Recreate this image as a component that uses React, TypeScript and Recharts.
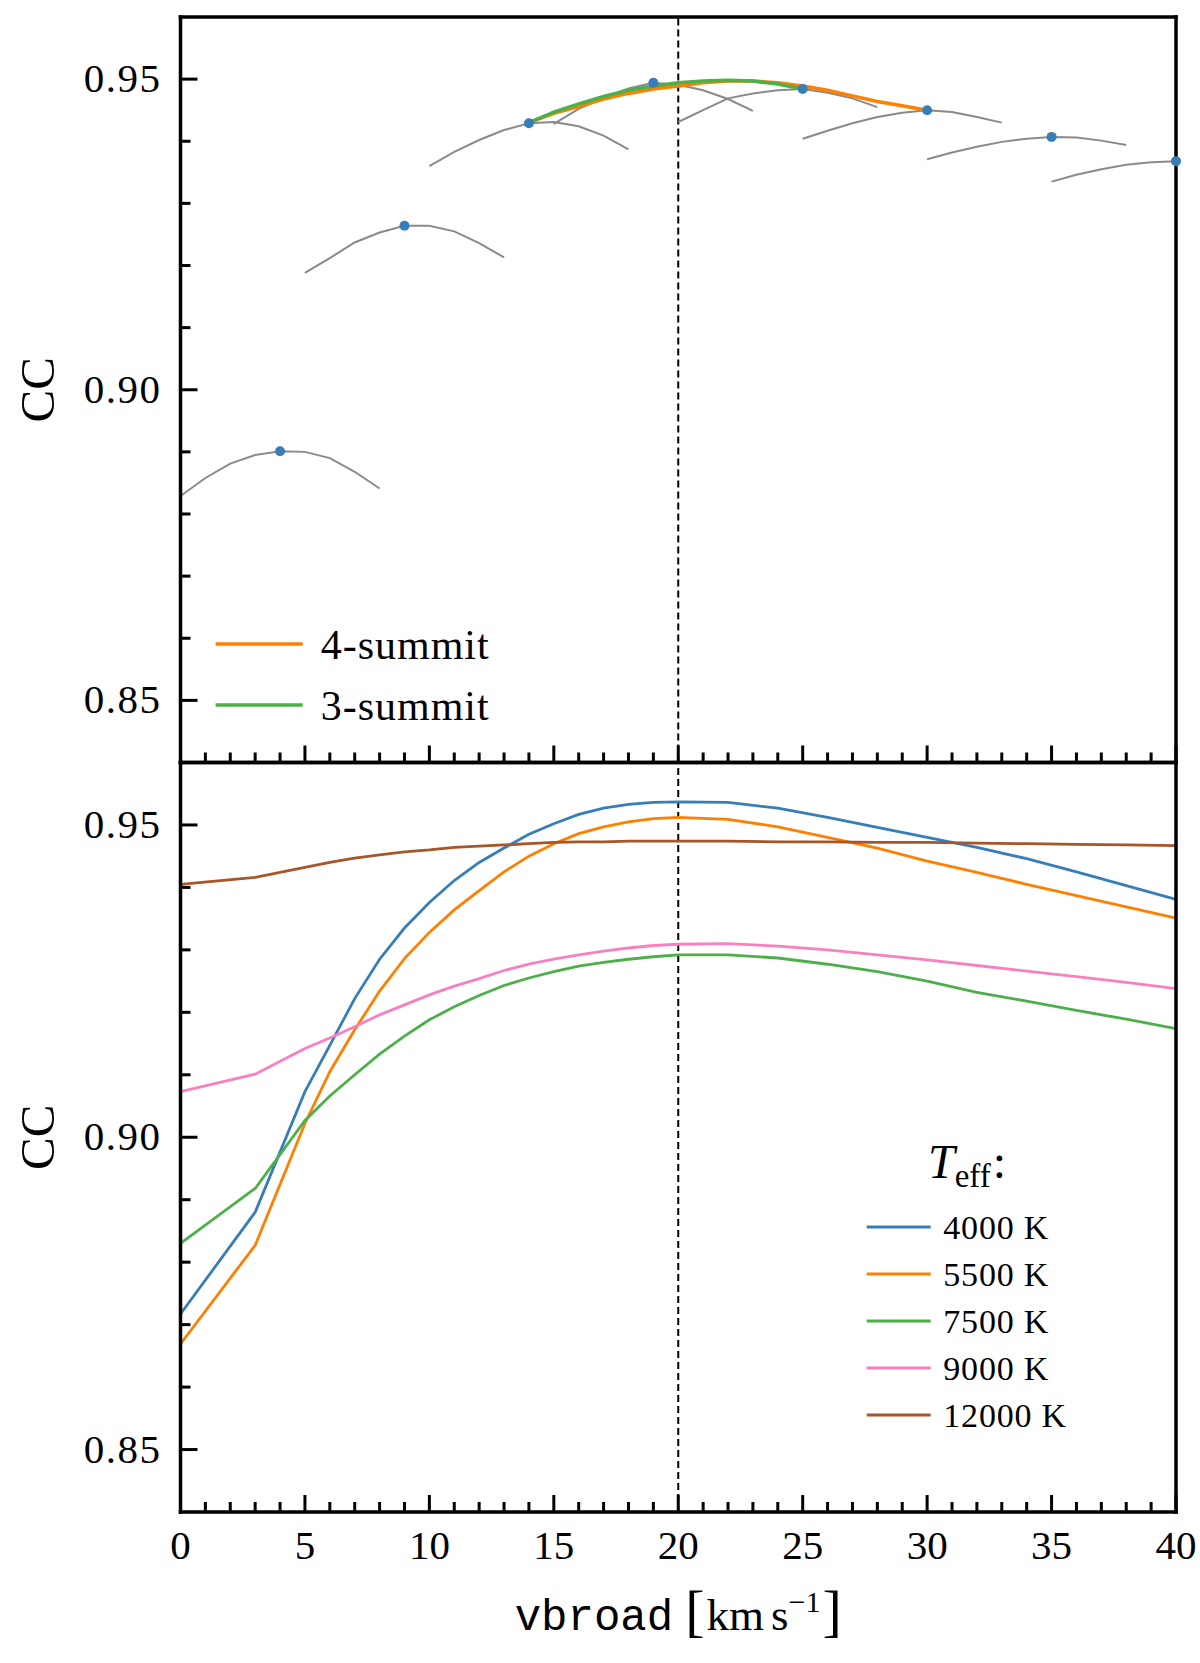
import React from 'react';
import { ComposedChart, Line, XAxis, YAxis, ReferenceLine, Legend, Label } from 'recharts';

const SERIF = '"Liberation Serif", "DejaVu Serif", serif';
const MONO = '"Liberation Mono", "DejaVu Sans Mono", monospace';

// ---------- axis ticks ----------
const xTicks = [0, 1, 2, 3, 4, 5, 6, 7, 8, 9, 10, 11, 12, 13, 14, 15, 16, 17, 18, 19, 20,
  21, 22, 23, 24, 25, 26, 27, 28, 29, 30, 31, 32, 33, 34, 35, 36, 37, 38, 39, 40];
const xMajorTicks = [0, 5, 10, 15, 20, 25, 30, 35, 40];
const yTicks = [0.85, 0.86, 0.87, 0.88, 0.89, 0.9, 0.91, 0.92, 0.93, 0.94, 0.95];
const yMajorTicks = [0.85, 0.9, 0.95];
const yMajorLabels = ['0.85', '0.90', '0.95'];

// ---------- top panel ----------
const arc1X = [0, 1, 2, 3, 4, 5, 6, 7, 8];
const arc1Y = [0.8829, 0.8858, 0.8881, 0.8895, 0.8901, 0.89, 0.889, 0.8868, 0.8841];
const arc2X = [5, 6, 7, 8, 9, 10, 11, 12, 13];
const arc2Y = [0.9188, 0.9212, 0.9237, 0.9253, 0.9264, 0.9264, 0.9255, 0.9236, 0.9213];
const arc3X = [10, 11, 12, 13, 14, 15, 16, 17, 18];
const arc3Y = [0.936, 0.9383, 0.9402, 0.9418, 0.9429, 0.9431, 0.9424, 0.9409, 0.9387];
const arc4X = [15, 16, 17, 18, 19, 20, 21, 22, 23];
const arc4Y = [0.9428, 0.9452, 0.947, 0.9485, 0.9494, 0.9491, 0.9482, 0.9468, 0.9449];
const arc5X = [20, 21, 22, 23, 24, 25, 26, 27, 28];
const arc5Y = [0.9431, 0.945, 0.9469, 0.9477, 0.9482, 0.9484, 0.9478, 0.9469, 0.9455];
const arc6X = [25, 26, 27, 28, 29, 30, 31, 32, 33];
const arc6Y = [0.9404, 0.9417, 0.9429, 0.9439, 0.9446, 0.945, 0.9447, 0.9439, 0.943];
const arc7X = [30, 31, 32, 33, 34, 35, 36, 37, 38];
const arc7Y = [0.9371, 0.9382, 0.9391, 0.9399, 0.9404, 0.9407, 0.9406, 0.9401, 0.9394];
const arc8X = [35, 36, 37, 38, 39, 40];
const arc8Y = [0.9335, 0.9346, 0.9355, 0.9362, 0.9366, 0.9368];

const peakX = [4, 9, 14, 19, 25, 30, 35, 40];
const peakY = [0.8901, 0.9264, 0.9429, 0.9494, 0.9484, 0.945, 0.9407, 0.9368];

const sum4X = [14, 15, 16, 17, 18, 19, 20, 21, 22, 23, 24, 25, 26, 27, 28, 29, 30];
const sum4Y = [0.943, 0.9445, 0.9456, 0.9468, 0.9477, 0.9484, 0.9489, 0.9494, 0.9497, 0.9497,
  0.9494, 0.9489, 0.9482, 0.9473, 0.9464, 0.9457, 0.945];
const sum3X = [14, 15, 16, 17, 18, 19, 20, 21, 22, 23, 24, 25];
const sum3Y = [0.943, 0.9447, 0.946, 0.9472, 0.9482, 0.9489, 0.9494, 0.9497, 0.9498, 0.9497, 0.9492, 0.9484];

// ---------- bottom panel ----------
const vbroad = [0, 3, 5, 6, 7, 8, 9, 10, 11, 12, 13, 14, 15, 16, 17, 18, 19, 20,
  22, 24, 26, 28, 30, 32, 34, 36, 38, 40];
const cc4000 = [0.8717, 0.888, 0.9073, 0.9147, 0.9222, 0.9285, 0.9335, 0.9376, 0.9411, 0.944,
  0.9463, 0.9485, 0.9502, 0.9517, 0.9527, 0.9533, 0.9536, 0.9537,
  0.9536, 0.9527, 0.9512, 0.9496, 0.948, 0.9464, 0.9446, 0.9425, 0.9403, 0.9381];
const cc5500 = [0.8669, 0.8827, 0.9022, 0.9105, 0.9172, 0.9234, 0.9286, 0.9328, 0.9364, 0.9395,
  0.9425, 0.945, 0.947, 0.9486, 0.9497, 0.9505, 0.951, 0.9512,
  0.9509, 0.9497, 0.948, 0.9463, 0.9442, 0.9424, 0.9405, 0.9387, 0.9369, 0.9351];
const cc7500 = [0.883, 0.8918, 0.9027, 0.9066, 0.91, 0.9133, 0.9162, 0.9188, 0.9209, 0.9227,
  0.9243, 0.9255, 0.9265, 0.9274, 0.928, 0.9285, 0.9289, 0.9292,
  0.9292, 0.9287, 0.9277, 0.9265, 0.925, 0.9232, 0.9218, 0.9203, 0.9189, 0.9174];
const cc9000 = [0.9073, 0.9101, 0.9142, 0.9159, 0.9177, 0.9196, 0.9212, 0.9228, 0.9242, 0.9254,
  0.9267, 0.9277, 0.9285, 0.9292, 0.9298, 0.9303, 0.9307, 0.9309,
  0.931, 0.9306, 0.93, 0.9292, 0.9284, 0.9275, 0.9266, 0.9257, 0.9248, 0.9238];
const cc12000 = [0.9405, 0.9416, 0.9432, 0.944, 0.9447, 0.9452, 0.9457, 0.946, 0.9464, 0.9466,
  0.9468, 0.947, 0.9472, 0.9473, 0.9473, 0.9474, 0.9474, 0.9474,
  0.9474, 0.9473, 0.9473, 0.9472, 0.9472, 0.9471, 0.947, 0.9469, 0.9468, 0.9467];

const topNames = ['4-summit', '3-summit'];
const bottomNames = ['4000 K', '5500 K', '7500 K', '9000 K', '12000 K'];

const C = {
  blue: '#377eb8',
  orange: '#ff7f00',
  green: '#4daf4a',
  pink: '#f781bf',
  brown: '#a65628',
  gray: '#8a8a8a',
};

const zip = (xs: number[], ys: number[]) => xs.map((x, i) => ({ x, y: ys[i] }));

const arcs = [
  zip(arc1X, arc1Y), zip(arc2X, arc2Y), zip(arc3X, arc3Y), zip(arc4X, arc4Y),
  zip(arc5X, arc5Y), zip(arc6X, arc6Y), zip(arc7X, arc7Y), zip(arc8X, arc8Y),
];
const peaks = zip(peakX, peakY);
const sum4 = zip(sum4X, sum4Y);
const sum3 = zip(sum3X, sum3Y);
const bottomSeries = [
  { name: bottomNames[0], color: C.blue, data: zip(vbroad, cc4000) },
  { name: bottomNames[1], color: C.orange, data: zip(vbroad, cc5500) },
  { name: bottomNames[2], color: C.green, data: zip(vbroad, cc7500) },
  { name: bottomNames[3], color: C.pink, data: zip(vbroad, cc9000) },
  { name: bottomNames[4], color: C.brown, data: zip(vbroad, cc12000) },
];

// ---------- tick renderers (inward ticks, like matplotlib) ----------
const MAJOR = 17;
const MINOR = 10;
const TICK_W = 3;
const TICK_FONT = 41;

const isXMajor = (v: number) => xMajorTicks.indexOf(v) >= 0;
const yMajorIndex = (v: number) => yMajorTicks.findIndex((m) => Math.abs(m - v) < 1e-6);

const makeTick = (side: 'bottom' | 'top' | 'left' | 'right', showLabel: boolean) => (props: any) => {
  const { x, y, payload } = props;
  const v = payload.value;
  if (side === 'bottom' || side === 'top') {
    const major = isXMajor(v);
    const len = major ? MAJOR : MINOR;
    const y2 = side === 'bottom' ? y - len : y + len;
    return (
      <g>
        <line x1={x} x2={x} y1={y} y2={y2} stroke="#000" strokeWidth={TICK_W} />
        {showLabel && major ? (
          <text x={x} y={y + 47} textAnchor="middle" fontFamily={SERIF} fontSize={TICK_FONT} fill="#000">
            {String(v)}
          </text>
        ) : null}
      </g>
    );
  }
  const mi = yMajorIndex(v);
  const major = mi >= 0;
  const len = major ? MAJOR : MINOR;
  const x2 = side === 'left' ? x + len : x - len;
  return (
    <g>
      <line x1={x} x2={x2} y1={y} y2={y} stroke="#000" strokeWidth={TICK_W} />
      {showLabel && major ? (
        <text
          x={x - 19}
          y={y + 13}
          textAnchor="end"
          fontFamily={SERIF}
          fontSize={TICK_FONT}
          letterSpacing={1.5}
          fill="#000"
        >
          {yMajorLabels[mi]}
        </text>
      ) : null}
    </g>
  );
};

const axisLine = { stroke: '#000', strokeWidth: 3.5, strokeLinecap: 'square' as const };

const CCLabel = (props: any) => {
  const vb = props.viewBox || {};
  const cx = vb.x + vb.width - 143;
  const cy = vb.y + vb.height / 2;
  return (
    <text
      x={cx}
      y={cy}
      transform={`rotate(-90, ${cx}, ${cy})`}
      textAnchor="middle"
      dominantBaseline="central"
      fontFamily={SERIF}
      fontSize={49}
      fill="#000"
    >
      CC
    </text>
  );
};

const XLabel = (props: any) => {
  const vb = props.viewBox || {};
  const cx = vb.x + vb.width / 2;
  const by = vb.y + 118;
  return (
    <text x={cx} y={by} textAnchor="middle" fontFamily={SERIF} fontSize={45} fill="#000">
      <tspan fontFamily={MONO} fontSize={44}>vbroad</tspan>
      <tspan dx={12} fontSize={58}>[</tspan>
      <tspan dx={2}>km</tspan>
      <tspan dx={7}>s</tspan>
      <tspan dy={-18} fontSize={30}>−1</tspan>
      <tspan dx={2} dy={18} fontSize={58}>]</tspan>
    </text>
  );
};

const sortByNames = (payload: any[], names: string[]) =>
  (payload || [])
    .filter((p: any) => p && p.type !== 'none' && names.indexOf(p.value) >= 0)
    .sort((a: any, b: any) => names.indexOf(a.value) - names.indexOf(b.value));

const TopLegend = (props: any) => {
  const items = sortByNames(props.payload, topNames);
  return (
    <svg width={330} height={140} style={{ display: 'block', overflow: 'visible' }}>
      {items.map((it: any, i: number) => {
        const y = 44 + i * 61;
        return (
          <g key={it.value}>
            <line x1={15.6} x2={102.7} y1={y} y2={y} stroke={it.color} strokeWidth={3.5} />
            <text x={120.7} y={y + 15} fontFamily={SERIF} fontSize={42} letterSpacing={1} fill="#000">
              {it.value}
            </text>
          </g>
        );
      })}
    </svg>
  );
};

const BottomLegend = (props: any) => {
  const items = sortByNames(props.payload, bottomNames);
  return (
    <svg width={330} height={310} style={{ display: 'block', overflow: 'visible' }}>
      <text x={78} y={48} fontFamily={SERIF} fontSize={48} fill="#000">
        <tspan fontStyle="italic">T</tspan>
        <tspan dy={9} fontSize={33}>eff</tspan>
        <tspan dy={-9} dx={2}>:</tspan>
      </text>
      {items.map((it: any, i: number) => {
        const y = 97 + i * 47;
        return (
          <g key={it.value}>
            <line x1={16.7} x2={80.7} y1={y} y2={y} stroke={it.color} strokeWidth={3} />
            <text x={93.3} y={y + 12} fontFamily={SERIF} fontSize={34} letterSpacing={0.8} fill="#000">
              {it.value}
            </text>
          </g>
        );
      })}
    </svg>
  );
};

const renderAxes = (withBottomLabels: boolean) => [
  <XAxis
    key="xb"
    xAxisId="b"
    type="number"
    dataKey="x"
    domain={[0, 40]}
    ticks={xTicks}
    interval={0}
    orientation="bottom"
    height={1}
    tickSize={0}
    tickMargin={0}
    tickLine={false}
    axisLine={axisLine}
    tick={makeTick('bottom', withBottomLabels)}
    label={withBottomLabels ? <Label content={XLabel} /> : undefined}
  />,
  <XAxis
    key="xt"
    xAxisId="t"
    type="number"
    dataKey="x"
    domain={[0, 40]}
    ticks={xTicks}
    interval={0}
    orientation="top"
    height={1}
    tickSize={0}
    tickMargin={0}
    tickLine={false}
    axisLine={axisLine}
    tick={makeTick('top', false)}
  />,
  <YAxis
    key="yl"
    yAxisId="l"
    type="number"
    domain={[0.84, 0.96]}
    ticks={yTicks}
    interval={0}
    orientation="left"
    width={1}
    tickSize={0}
    tickMargin={0}
    tickLine={false}
    axisLine={axisLine}
    tick={makeTick('left', true)}
    label={<Label content={CCLabel} />}
  />,
  <YAxis
    key="yr"
    yAxisId="r"
    type="number"
    domain={[0.84, 0.96]}
    ticks={yTicks}
    interval={0}
    orientation="right"
    width={1}
    tickSize={0}
    tickMargin={0}
    tickLine={false}
    axisLine={axisLine}
    tick={makeTick('right', false)}
  />,
];

export default function App() {
  return (
    <div style={{ position: 'absolute', left: 0, top: 0, width: 1200, height: 1663, background: '#fff' }}>
      <div style={{ position: 'absolute', left: 0, top: 0 }}>
        <ComposedChart width={1200} height={790} margin={{ top: 16, right: 23, bottom: 26.5, left: 179.5 }}>
          {renderAxes(false)}
          <ReferenceLine xAxisId="b" yAxisId="l" x={20} stroke="#000" strokeWidth={2} strokeDasharray="7 4" />
          {arcs.map((d, i) => (
            <Line
              key={'arc' + i}
              xAxisId="b"
              yAxisId="l"
              data={d}
              dataKey="y"
              type="linear"
              stroke={C.gray}
              strokeWidth={2}
              dot={false}
              activeDot={false}
              legendType="none"
              isAnimationActive={false}
            />
          ))}
          <Line
            xAxisId="b"
            yAxisId="l"
            data={peaks}
            dataKey="y"
            stroke="none"
            dot={{ r: 5, fill: C.blue, stroke: 'none' }}
            activeDot={false}
            legendType="none"
            isAnimationActive={false}
          />
          <Line
            xAxisId="b"
            yAxisId="l"
            name={topNames[0]}
            data={sum4}
            dataKey="y"
            type="linear"
            stroke={C.orange}
            strokeWidth={3.5}
            dot={false}
            activeDot={false}
            isAnimationActive={false}
          />
          <Line
            xAxisId="b"
            yAxisId="l"
            name={topNames[1]}
            data={sum3}
            dataKey="y"
            type="linear"
            stroke={C.green}
            strokeWidth={3.5}
            dot={false}
            activeDot={false}
            isAnimationActive={false}
          />
          <Legend
            layout="vertical"
            align="center"
            verticalAlign="middle"
            content={TopLegend}
            wrapperStyle={{ position: 'absolute', left: 200, top: 600, width: 330, height: 140 }}
          />
        </ComposedChart>
      </div>
      <div style={{ position: 'absolute', left: 0, top: 740 }}>
        <ComposedChart width={1200} height={923} margin={{ top: 21.5, right: 23, bottom: 150, left: 179.5 }}>
          {renderAxes(true)}
          <ReferenceLine xAxisId="b" yAxisId="l" x={20} stroke="#000" strokeWidth={2} strokeDasharray="7 4" />
          {bottomSeries.map((s) => (
            <Line
              key={s.name}
              xAxisId="b"
              yAxisId="l"
              name={s.name}
              data={s.data}
              dataKey="y"
              type="linear"
              stroke={s.color}
              strokeWidth={2.8}
              dot={false}
              activeDot={false}
              isAnimationActive={false}
            />
          ))}
          <Legend
            layout="vertical"
            align="center"
            verticalAlign="middle"
            content={BottomLegend}
            wrapperStyle={{ position: 'absolute', left: 850, top: 390, width: 330, height: 310 }}
          />
        </ComposedChart>
      </div>
    </div>
  );
}
